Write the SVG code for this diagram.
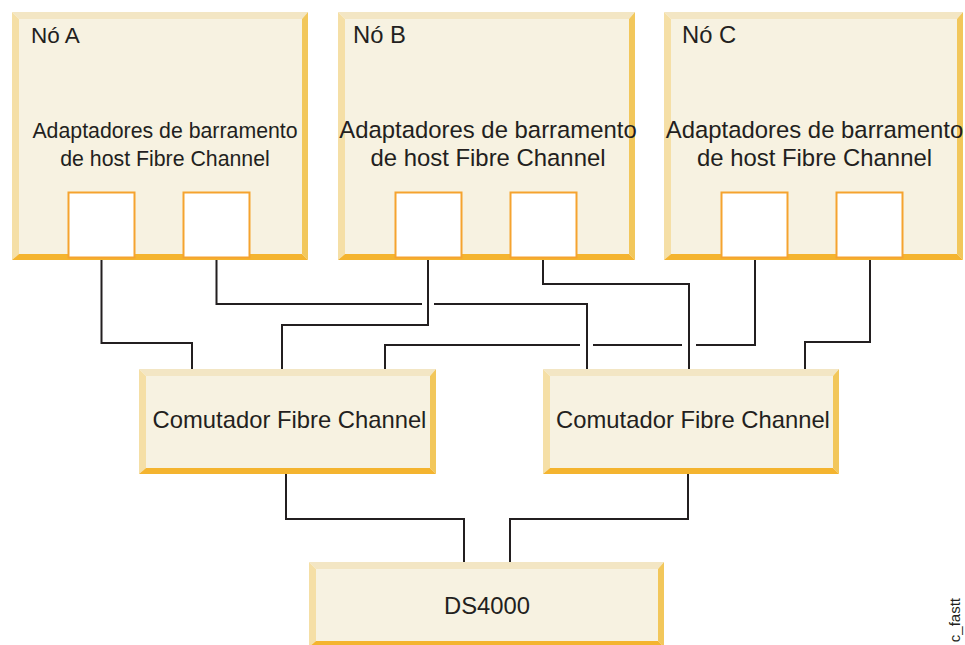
<svg xmlns="http://www.w3.org/2000/svg" width="965" height="645" viewBox="0 0 965 645">
<style>
.bt{fill:#f3e6c4}
.bl{fill:#f5dfa6}
.br{fill:#f2c75b}
.bb{fill:#f4b42f}
.bc{fill:#f7f2e1}
.port{fill:#ffffff;stroke:#f5a32f;stroke-width:2}
.conn{fill:none;stroke:#231f20;stroke-width:2}
text{font-family:"Liberation Sans",Arial,sans-serif;fill:#231f20}
.t{font-size:22.5px}
.t2{font-size:23.8px}
.a{font-size:21.3px;text-anchor:middle}
.a2{font-size:23.9px;text-anchor:middle}
.s{font-size:23.8px;text-anchor:middle}
</style>
<rect width="965" height="645" fill="#ffffff"/>
<g id="connectors">
<path class="conn" d="M101.5,259 V343 H192 V369"/>
<path class="conn" d="M216.5,259 V304 H422 M434,304 H587 V369"/>
<path class="conn" d="M428,259 V325 H282 V369"/>
<path class="conn" d="M385,369 V345 H580 M593,345 H682 M696,345 H755 V259"/>
<path class="conn" d="M543,259 V284 H689 V369"/>
<path class="conn" d="M870,259 V342 H805 V369"/>
<path class="conn" d="M286,474 V519 H464 V562"/>
<path class="conn" d="M688,474 V519 H510 V562"/>
</g>
<g id="nodeA">
<polygon class="bt" points="12,12 308,12 302,19 19,19"/>
<polygon class="bl" points="12,12 19,19 19,254 12,260"/>
<polygon class="br" points="308,12 308,260 302,254 302,19"/>
<polygon class="bb" points="12,260 308,260 302,254 19,254"/>
<rect class="bc" x="19" y="19" width="283" height="235"/>
<text class="t" x="31" y="43">Nó A</text>
<text class="a" x="165" y="138">Adaptadores de barramento</text>
<text class="a" x="165" y="166">de host Fibre Channel</text>
<rect class="port" x="68.5" y="192.5" width="66" height="65"/>
<rect class="port" x="183.5" y="192.5" width="66" height="65"/>
</g>
<g id="nodeB">
<polygon class="bt" points="338,12 635,12 629,19 345,19"/>
<polygon class="bl" points="338,12 345,19 345,254 338,260"/>
<polygon class="br" points="635,12 635,260 629,254 629,19"/>
<polygon class="bb" points="338,260 635,260 629,254 345,254"/>
<rect class="bc" x="345" y="19" width="284" height="235"/>
<text class="t2" x="353" y="43">Nó B</text>
<text class="a2" x="488" y="138">Adaptadores de barramento</text>
<text class="a2" x="488" y="166">de host Fibre Channel</text>
<rect class="port" x="395.5" y="192.5" width="66" height="65"/>
<rect class="port" x="510.5" y="192.5" width="66" height="65"/>
</g>
<g id="nodeC">
<polygon class="bt" points="664,12 963,12 957,19 671,19"/>
<polygon class="bl" points="664,12 671,19 671,254 664,260"/>
<polygon class="br" points="963,12 963,260 957,254 957,19"/>
<polygon class="bb" points="664,260 963,260 957,254 671,254"/>
<rect class="bc" x="671" y="19" width="286" height="235"/>
<text class="t2" x="682" y="43">Nó C</text>
<text class="a2" x="814.5" y="138">Adaptadores de barramento</text>
<text class="a2" x="814.5" y="166">de host Fibre Channel</text>
<rect class="port" x="721.5" y="192.5" width="66" height="65"/>
<rect class="port" x="836.5" y="192.5" width="66" height="65"/>
</g>
<g id="switch1">
<polygon class="bt" points="139,369 436,369 430,376 146,376"/>
<polygon class="bl" points="139,369 146,376 146,468 139,474"/>
<polygon class="br" points="436,369 436,474 430,468 430,376"/>
<polygon class="bb" points="139,474 436,474 430,468 146,468"/>
<rect class="bc" x="146" y="376" width="284" height="92"/>
<text class="s" x="289.5" y="428">Comutador Fibre Channel</text>
</g>
<g id="switch2">
<polygon class="bt" points="543,369 839,369 833,376 550,376"/>
<polygon class="bl" points="543,369 550,376 550,468 543,474"/>
<polygon class="br" points="839,369 839,474 833,468 833,376"/>
<polygon class="bb" points="543,474 839,474 833,468 550,468"/>
<rect class="bc" x="550" y="376" width="283" height="92"/>
<text class="s" x="693" y="428">Comutador Fibre Channel</text>
</g>
<g id="ds4000">
<polygon class="bt" points="309,562 664,562 658,569 316,569"/>
<polygon class="bl" points="309,562 316,569 316,641 309,647"/>
<polygon class="br" points="664,562 664,647 658,641 658,569"/>
<polygon class="bb" points="309,647 664,647 658,641 316,641"/>
<rect class="bc" x="316" y="569" width="342" height="72"/>
<text class="s" x="487" y="614">DS4000</text>
</g>
<text transform="translate(960,598) rotate(-90)" x="0" y="0" style="font-size:15px;text-anchor:end">c_fastt</text>
</svg>
